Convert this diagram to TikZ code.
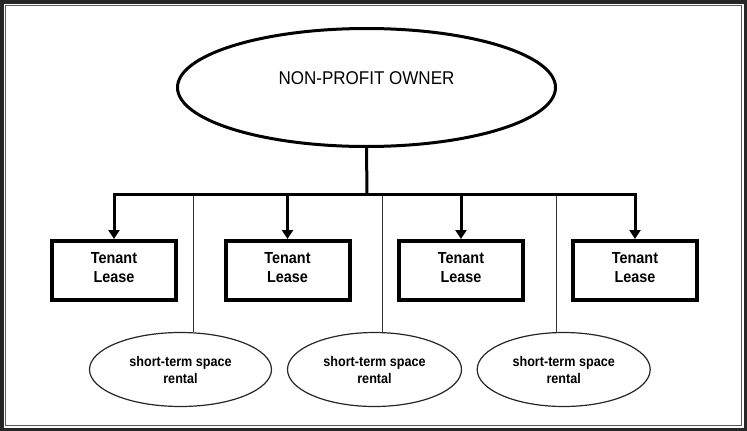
\documentclass[tikz,border=0pt]{standalone}
\usepackage{fontspec}
\setmainfont{Liberation Sans}
\newfontfamily\titlefont[FakeStretch=0.92]{Liberation Sans}
\newfontfamily\boxfont[FakeStretch=0.9]{Liberation Sans}
\usetikzlibrary{shapes.geometric,arrows.meta}
\newcommand{\lowpad}[1]{\rule[-#1]{0pt}{#1}}
\begin{document}
\begin{tikzpicture}[x=1pt,y=-1pt,
  framelineout/.style={draw=black!85,line width=3.5pt},
  framelinein/.style={draw=black!65,line width=1.2pt},
  ownerell/.style={draw,ellipse,line width=3pt,minimum width=378pt,minimum height=118pt,inner sep=0pt,
    font=\titlefont\fontsize{18.5}{22}\selectfont},
  leasebox/.style={draw,rectangle,line width=4pt,minimum width=124pt,minimum height=59pt,inner sep=0pt,
    align=center,font=\boxfont\bfseries\fontsize{16}{19}\selectfont},
  rentell/.style={draw=black!85,ellipse,line width=1.2pt,inner sep=0pt,minimum height=74pt,
    align=center,font=\boxfont\bfseries\fontsize{14}{17}\selectfont},
  bus/.style={line width=3pt},
  feed/.style={line width=3pt,-{Triangle[width=11pt,length=9pt]}},
  thin/.style={draw=black!80,line width=1pt}
]
\useasboundingbox (0,0) rectangle (747,431);
\fill[white] (0,0) rectangle (747,431);
\draw[framelineout] (1.75,1.75) rectangle (745.25,429.25);
\draw[framelinein] (5.8,5.8) rectangle (741.2,425.2);

\node[ownerell] (owner) at (366.5,87.5) {NON-PROFIT OWNER\lowpad{19pt}};

\node[leasebox] (b1) at (114,270.5) {Tenant\\Lease\lowpad{6pt}};
\node[leasebox] (b2) at (287.5,270.5) {Tenant\\Lease\lowpad{6pt}};
\node[leasebox] (b3) at (461,270.5) {Tenant\\Lease\lowpad{6pt}};
\node[leasebox] (b4) at (635,270.5) {Tenant\\Lease\lowpad{6pt}};

\node[rentell,minimum width=182pt] (s1) at (180.5,369.5) {short-term space\\rental};
\node[rentell,minimum width=174pt] (s2) at (374.5,369.5) {short-term space\\rental};
\node[rentell,minimum width=173pt] (s3) at (563.7,369.5) {short-term space\\rental};

\coordinate (busmid) at (367,194);
\coordinate (t1) at (193,194);
\coordinate (t2) at (382,194);
\coordinate (t3) at (556,194);

\draw[thin] (t1) -- (t1 |- s1.north);
\draw[thin] (t2) -- (t2 |- s2.north);
\draw[thin] (t3) -- (t3 |- s3.north);

\draw[bus] (owner.south) -- (busmid);
\draw[bus,line cap=rect] (b1.north |- busmid) -- (b4.north |- busmid);
\draw[feed] (b1.north |- busmid) -- (b1.north);
\draw[feed] (b2.north |- busmid) -- (b2.north);
\draw[feed] (b3.north |- busmid) -- (b3.north);
\draw[feed] (b4.north |- busmid) -- (b4.north);
\end{tikzpicture}
\end{document}
